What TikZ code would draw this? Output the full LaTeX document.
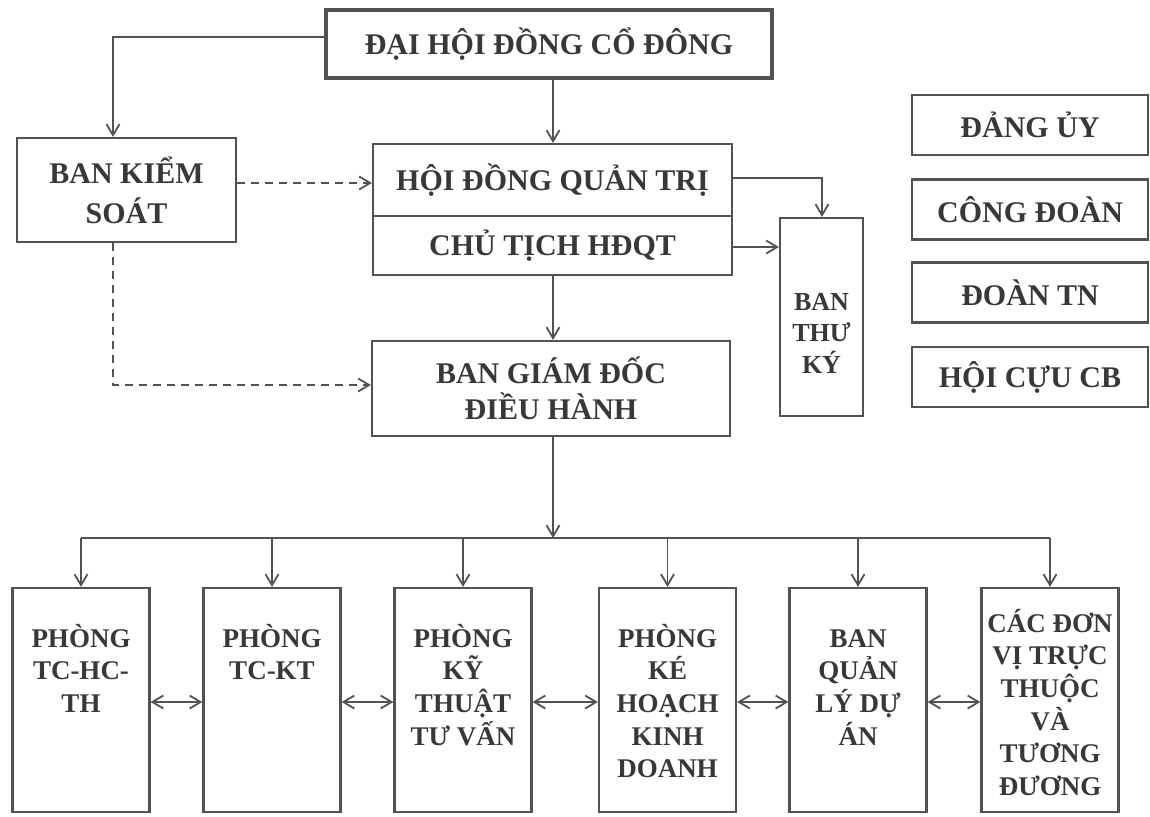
\documentclass[tikz,border=0pt]{standalone}
\usepackage{fontspec}
\setmainfont{Liberation Serif}
\usetikzlibrary{arrows.meta}
\begin{document}
\begin{tikzpicture}[x=0.5pt,y=-0.5pt,
  line/.style={draw=black!68, line width=0.9pt},
  arr/.style={line, -{Straight Barb[length=5.5pt,width=6.5pt]}},
  darr/.style={line, {Straight Barb[length=5.5pt,width=6.5pt]}-{Straight Barb[length=5.5pt,width=6.5pt]}},
  dasharr/.style={arr, dash pattern=on 4pt off 3pt},
  box/.style={draw=black!68, line width=1.1pt, rectangle, inner sep=0pt, align=center,
    text=black!78, font=\bfseries\fontsize{15}{18}\selectfont},
  side/.style={box, minimum width=118pt, minimum height=30pt},
  dept/.style={box, minimum width=68.5pt, minimum height=112pt},
  dlabel/.style={anchor=north, inner sep=0pt, align=center, text=black!78,
    font=\bfseries\fontsize{13.5}{16.3}\selectfont, yshift=-17pt}
]
\useasboundingbox (0,0) rectangle (1150,816);

% top level
\node[box, line width=1.7pt, minimum width=223pt, minimum height=34pt] (dh) at (549,44) {ĐẠI HỘI ĐỒNG CỔ ĐÔNG};
\node[box, minimum width=109.5pt, minimum height=52pt, font=\bfseries\fontsize{15}{20}\selectfont] (bks) at (126.5,190) {BAN KIỂM\\SOÁT};
\node[box, minimum width=179.5pt, minimum height=36pt] (hd) at (552.5,180) {HỘI ĐỒNG QUẢN TRỊ};
\node[box, minimum width=179.5pt, minimum height=29.5pt] (ct) at (552.5,245.5) {CHỦ TỊCH HĐQT};
\node[box, minimum width=179pt, minimum height=47.5pt] (bgd) at (551,388.5) {BAN GIÁM ĐỐC\\ĐIỀU HÀNH};
\node[box, minimum width=41.5pt, minimum height=99pt,
  label={[dlabel, anchor=center, yshift=9pt, font=\bfseries\fontsize{13}{15.75}\selectfont]center:{BAN\\THƯ\\KÝ}}] (btk) at (821.5,317) {};

% side organisations
\node[side] (du) at (1030,125) {ĐẢNG ỦY};
\node[side] (cd) at (1030,209.5) {CÔNG ĐOÀN};
\node[side] (dtn) at (1030,292.5) {ĐOÀN TN};
\node[side] (hcb) at (1030,377) {HỘI CỰU CB};

% departments
\node[dept, label={[dlabel]north:{\rule{0pt}{13pt}PHÒNG\\TC-HC-\\TH}}] (p1) at (81,700) {};
\node[dept, label={[dlabel]north:{\rule{0pt}{13pt}PHÒNG\\TC-KT}}] (p2) at (272,700) {};
\node[dept, label={[dlabel]north:{\rule{0pt}{13pt}PHÒNG\\KỸ\\THUẬT\\TƯ VẤN}}] (p3) at (463,700) {};
\node[dept, label={[dlabel]north:{\rule{0pt}{13pt}PHÒNG\\KÉ\\HOẠCH\\KINH\\DOANH}}] (p4) at (667.5,700) {};
\node[dept, label={[dlabel]north:{\rule{0pt}{13pt}BAN\\QUẢN\\LÝ DỰ\\ÁN}}] (p5) at (858,700) {};
\node[dept, label={[dlabel,yshift=7.5pt]north:{\rule{0pt}{13pt}CÁC ĐƠN\\VỊ TRỰC\\THUỘC\\VÀ\\TƯƠNG\\ĐƯƠNG}}] (p6) at (1050,700) {};

% coordinates
\coordinate (sp) at (553,0);
\coordinate (k1) at (113,37);
\coordinate (d1) at (0,183);
\coordinate (d2) at (113,385);
\coordinate (t1) at (822,178);
\coordinate (t2) at (0,247);
\coordinate (bus) at (553,538);
\coordinate (h) at (0,702);

% solid connectors
\draw[arr] (dh.west |- k1) -- (k1) -- (bks.north -| k1);
\draw[arr] (dh.south -| sp) -- (hd.north -| sp);
\draw[arr] (ct.south -| sp) -- (bgd.north -| sp);
\draw[arr] (hd.east |- t1) -- (t1) -- (btk.north -| t1);
\draw[arr] (ct.east |- t2) -- (btk.west |- t2);
\draw[arr] (bgd.south -| sp) -- (bus);
\draw[line] (p1.north |- bus) -- (p6.north |- bus);
\foreach \p in {p1,p2,p3,p4,p5,p6}
  \draw[arr] (\p.north |- bus) -- (\p.north);

% dashed connectors
\draw[dasharr] (bks.east |- d1) -- (hd.west |- d1);
\draw[dasharr] (bks.south -| d2) -- (d2) -- (bgd.west |- d2);

% horizontal double arrows
\draw[darr] (p1.east |- h) -- (p2.west |- h);
\draw[darr] (p2.east |- h) -- (p3.west |- h);
\draw[darr] (p3.east |- h) -- (p4.west |- h);
\draw[darr] (p4.east |- h) -- (p5.west |- h);
\draw[darr] (p5.east |- h) -- (p6.west |- h);
\end{tikzpicture}
\end{document}
